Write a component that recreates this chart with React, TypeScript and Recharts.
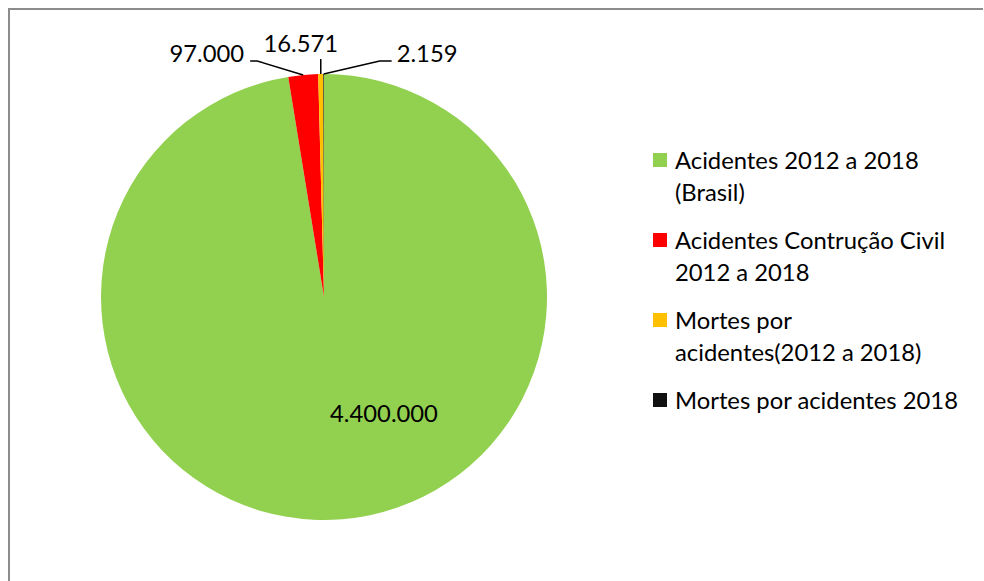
import React from "react";
import { PieChart, Pie, Cell, Legend } from "recharts";

const categories = [
  "Acidentes 2012 a 2018\n(Brasil)",
  "Acidentes Contrução Civil\n2012 a 2018",
  "Mortes por\nacidentes(2012 a 2018)",
  "Mortes por acidentes 2018",
];
const values = [4400000, 97000, 16571, 2159];
const valueLabels = ["4.400.000", "97.000", "16.571", "2.159"];

const COLORS = ["#92D050", "#FF0000", "#FFC000", "#111111"];
const FONT = "Lato, 'Open Sans', sans-serif";
const FS = 23.8;

const chartData = categories.map((name, i) => ({ name, value: values[i] }));

// label placement relative to the outer point of each slice
// inside: offset from the centre; elbow/tail: leader line, text: text offset from the line end
const labelCfg = [
  { inside: [60, 116] },
  { elbow: [-46, -14], tail: -7, text: [-6, -8], anchor: "end" },
  { elbow: [0, -15], tail: 0, text: [-20, -16], anchor: "middle" },
  { elbow: [56, -13], tail: 12, text: [5, -8], anchor: "start" },
];

const RAD = Math.PI / 180;

function renderLabel(props: any) {
  const { cx, cy, midAngle, outerRadius, index } = props;
  const cfg: any = labelCfg[index];
  if (cfg.inside) {
    return (
      <text
        x={cx + cfg.inside[0]}
        y={cy + cfg.inside[1]}
        textAnchor="middle"
        dominantBaseline="central"
        fontFamily={FONT}
        fontSize={FS}
        fill="#000"
      >
        {valueLabels[index]}
      </text>
    );
  }
  const sx = cx + outerRadius * Math.cos(-midAngle * RAD);
  const sy = cy + outerRadius * Math.sin(-midAngle * RAD);
  const ex = sx + cfg.elbow[0];
  const ey = sy + cfg.elbow[1];
  const tx = ex + cfg.tail;
  return (
    <g>
      <polyline
        points={`${sx},${sy} ${ex},${ey} ${tx},${ey}`}
        fill="none"
        stroke="#000"
        strokeWidth={1.5}
      />
      <text
        x={tx + cfg.text[0]}
        y={ey + cfg.text[1]}
        textAnchor={cfg.anchor}
        dominantBaseline="central"
        fontFamily={FONT}
        fontSize={FS}
        fill="#000"
      >
        {valueLabels[index]}
      </text>
    </g>
  );
}

function LegendContent() {
  return (
    <div style={{ fontFamily: FONT, fontSize: FS, color: "#000" }}>
      {categories.map((name, i) => (
        <div key={name} style={{ position: "relative", paddingLeft: 22, marginBottom: 16 }}>
          <span
            style={{
              position: "absolute",
              left: 0,
              top: 9,
              width: 14,
              height: 14,
              background: COLORS[i],
            }}
          />
          {name.split("\n").map((line) => (
            <div key={line} style={{ lineHeight: "32px", whiteSpace: "nowrap" }}>
              {line}
            </div>
          ))}
        </div>
      ))}
    </div>
  );
}

export default function App() {
  return (
    <div
      style={{
        position: "fixed",
        left: 8,
        top: 8,
        width: 973,
        height: 573,
        overflow: "hidden",
        borderTop: "2px solid #8c8c8c",
        borderLeft: "2px solid #8c8c8c",
        background: "#fff",
      }}
    >
      <PieChart
        width={960}
        height={571}
        margin={{ top: 0, right: 0, bottom: 0, left: 0 }}
      >
        <Pie
          data={chartData}
          dataKey="value"
          nameKey="name"
          cx={314}
          cy={287}
          outerRadius={223}
          startAngle={90}
          endAngle={-270}
          stroke="none"
          label={renderLabel}
          labelLine={false}
          isAnimationActive={false}
        >
          {chartData.map((d, i) => (
            <Cell key={d.name} fill={COLORS[i]} />
          ))}
        </Pie>
        <Legend
          content={<LegendContent />}
          wrapperStyle={{ left: 643, top: 134, width: 310 }}
        />
      </PieChart>
    </div>
  );
}
